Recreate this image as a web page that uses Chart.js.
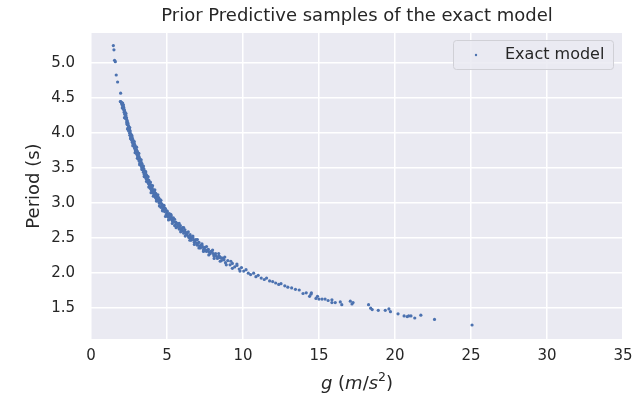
<!DOCTYPE html>
<html><head><meta charset="utf-8">
<script src="https://cdn.jsdelivr.net/npm/chart.js@4.4.1/dist/chart.umd.min.js"></script>
<style>html,body{margin:0;padding:0;background:#fff}#wrap{width:641px;height:399px}</style>
</head><body><div id="wrap"><canvas id="c" width="641" height="399"></canvas></div>
<script>
// g values (m/s^2)
const gravity = [
  1.47,1.51,1.55,1.60,1.66,1.75,1.93,1.95,
  1.95,2.00,2.02,2.05,2.06,2.08,2.10,2.12,2.15,2.16,
  2.18,2.20,2.22,2.25,2.26,2.28,2.30,2.33,2.35,2.36,
  2.38,2.40,2.42,2.45,2.46,2.48,2.50,2.52,2.55,2.56,
  2.58,2.60,2.62,2.65,2.66,2.68,2.70,2.72,2.75,2.76,
  2.78,2.80,2.82,2.85,2.86,2.88,2.90,2.92,2.95,2.96,
  2.98,3.00,3.02,3.05,3.06,3.08,3.10,3.12,3.15,3.16,
  3.18,3.20,3.22,3.25,3.26,3.28,3.30,3.33,3.36,3.36,
  3.40,3.42,3.45,3.46,3.48,3.50,3.53,3.56,3.56,3.60,
  3.63,3.66,3.66,3.70,3.73,3.76,3.76,3.80,3.84,3.86,
  3.88,3.90,3.94,3.96,3.98,4.02,4.06,4.08,4.10,4.14,
  4.18,4.20,4.22,4.26,4.30,4.32,4.35,4.40,4.44,4.45,
  4.50,4.55,4.56,4.60,4.66,4.70,4.72,4.78,4.84,4.86,
  4.90,4.96,5.00,5.02,5.08,5.15,5.18,5.22,5.28,5.35,
  5.38,5.42,5.50,5.58,5.60,5.65,5.72,5.80,5.82,5.88,
  5.95,6.02,6.05,6.10,6.18,6.26,6.30,6.35,6.44,6.52,
  6.55,6.60,6.70,6.80,6.85,6.90,7.00,7.10,7.15,7.20,
  7.30,7.40,7.45,7.50,7.60,7.72,7.80,7.85,7.95,8.08,
  8.15,8.20,8.32,8.45,8.50,8.58,8.70,8.85,9.00,9.15,
  9.30,9.45,9.60,9.75,9.90,10.05,10.20,10.35,10.50,10.70,
  10.85,11.00,11.20,11.40,11.55,11.75,11.95,12.15,12.35,12.50,
  12.75,12.95,13.20,13.45,13.70,13.95,14.16,14.38,14.47,14.50,
  14.80,14.90,15.00,15.20,15.40,15.60,15.85,15.85,16.07,16.40,
  16.50,17.06,17.17,17.24,18.26,18.40,18.50,18.90,19.36,19.60,
  19.70,20.20,20.60,20.80,20.90,21.05,21.30,21.70,22.60,25.07,
  // upper edge of the dense band
  2.10,2.30,2.55,2.70,2.85,3.00,3.15,3.30,
  3.45,3.60,3.75,3.90,4.05,4.20,4.40,4.60,
  4.80,5.00,5.25,5.50,5.80,6.10,6.40,6.70,
  7.00,7.30,7.60,8.00,8.40,8.80,9.20,9.60,
  // lower edge of the dense band
  2.20,2.40,2.60,2.75,2.90,3.05,3.20,3.35,
  3.50,3.65,3.80,3.95,4.10,4.30,4.50,4.70,
  4.90,5.10,5.35,5.60,5.90,6.20,6.50,6.80,
  7.10,7.40,7.75,8.10,8.50,8.90,9.30,9.80,
  // middle of the dense band
  2.13,2.24,2.34,2.44,2.54,2.64,2.74,2.84,
  2.94,3.04,3.14,3.24,3.34,3.44,3.54,3.64,
  3.74,3.84,3.94,4.04,4.16,4.28,4.42,4.58,
  4.75,4.92,5.10,5.30,5.52,5.75,6.00,6.25,
  6.50,6.75,7.05,7.35,7.70,8.05,8.40,8.75,
  // more of the dense band
  2.03,2.18,2.28,2.38,2.48,2.58,2.68,2.78,
  2.88,2.98,3.08,3.18,3.28,3.38,3.48,3.58,
  3.68,3.78,3.88,3.98,4.12,4.24,4.36,4.50,
  4.65,4.82,5.00,5.20,5.42,5.65,5.90,6.15,
  6.40,6.65,6.95,7.25,7.55,7.90,8.25,8.60
];
// period values (s), same order as gravity
const period = [
  5.25,5.19,5.04,5.02,4.83,4.73,4.45,4.57,
  4.45,4.44,4.42,4.40,4.36,4.43,4.38,4.35,4.37,4.33,
  4.30,4.32,4.27,4.28,4.24,4.22,4.25,4.20,4.16,4.13,
  4.18,4.12,4.15,4.08,4.05,4.10,4.04,4.07,4.00,3.97,
  4.03,3.97,3.94,3.98,3.92,3.90,3.93,3.87,3.91,3.86,
  3.84,3.88,3.82,3.85,3.79,3.78,3.82,3.75,3.79,3.74,
  3.72,3.76,3.70,3.74,3.68,3.66,3.71,3.63,3.67,3.62,
  3.60,3.64,3.57,3.62,3.56,3.54,3.58,3.52,3.56,3.50,
  3.48,3.52,3.44,3.46,3.49,3.41,3.46,3.38,3.41,3.43,
  3.35,3.40,3.35,3.32,3.37,3.29,3.31,3.33,3.25,3.27,
  3.30,3.21,3.26,3.22,3.18,3.22,3.15,3.17,3.19,3.12,
  3.16,3.12,3.09,3.14,3.06,3.09,3.11,3.03,3.05,3.08,
  3.00,3.05,3.02,2.94,2.99,2.97,2.91,2.95,2.88,2.93,
  2.92,2.84,2.86,2.88,2.80,2.85,2.80,2.77,2.82,2.75,
  2.77,2.79,2.68,2.73,2.70,2.66,2.70,2.63,2.66,2.68,
  2.61,2.65,2.60,2.57,2.62,2.55,2.56,2.58,2.51,2.55,
  2.50,2.47,2.51,2.44,2.46,2.48,2.40,2.44,2.39,2.36,
  2.40,2.33,2.35,2.37,2.31,2.34,2.30,2.28,2.31,2.25,
  2.26,2.28,2.21,2.24,2.22,2.18,2.21,2.15,2.18,2.12,
  2.14,2.09,2.11,2.06,2.08,2.03,2.05,2.00,1.98,2.00,
  1.95,1.97,1.93,1.91,1.93,1.89,1.88,1.86,1.84,1.85,
  1.82,1.80,1.79,1.77,1.76,1.71,1.72,1.67,1.70,1.72,
  1.64,1.67,1.63,1.63,1.63,1.61,1.62,1.58,1.58,1.59,
  1.55,1.60,1.56,1.58,1.55,1.50,1.48,1.47,1.47,1.49,
  1.45,1.42,1.39,1.38,1.39,1.39,1.36,1.40,1.34,1.26,
  // upper edge
  4.41,4.28,4.08,3.96,3.88,3.80,3.71,3.62,
  3.53,3.45,3.38,3.30,3.25,3.19,3.12,3.04,
  2.97,2.89,2.84,2.77,2.71,2.65,2.59,2.53,
  2.48,2.42,2.38,2.33,2.28,2.23,2.17,2.13,
  // lower edge
  4.22,4.06,3.92,3.82,3.72,3.64,3.55,3.48,
  3.38,3.31,3.23,3.15,3.10,3.03,2.96,2.89,
  2.81,2.76,2.71,2.65,2.59,2.53,2.47,2.41,
  2.36,2.31,2.26,2.21,2.17,2.12,2.07,2.03,
  // middle
  4.40,4.30,4.22,4.13,4.05,3.95,3.89,3.81,
  3.77,3.71,3.65,3.59,3.54,3.49,3.43,3.38,
  3.33,3.29,3.24,3.19,3.14,3.11,3.07,3.00,
  2.94,2.89,2.83,2.79,2.73,2.68,2.63,2.58,
  2.53,2.48,2.43,2.37,2.32,2.28,2.24,2.19,
  // more
  4.43,4.34,4.21,4.15,4.03,4.00,3.94,3.86,
  3.83,3.74,3.70,3.62,3.59,3.49,3.45,3.37,
  3.36,3.28,3.25,3.23,3.16,3.08,3.07,3.02,
  2.95,2.92,2.83,2.82,2.74,2.71,2.63,2.60,
  2.53,2.52,2.43,2.40,2.33,2.31,2.24,2.22
];
const xTickValues = [0,5,10,15,20,25,30,35];
const yTickValues = [1.5,2.0,2.5,3.0,3.5,4.0,4.5,5.0];
const seriesLabel = 'Exact model';
const chartTitle = 'Prior Predictive samples of the exact model';
const yAxisTitle = 'Period (s)';
// x-axis title pieces: [text, style]  ->  g (m/s²)
const xAxisTitleParts = [['g','i'],[' (','n'],['m','i'],['/','n'],['s','i'],['2','sup'],[')','n']];

const points = gravity.map((g, i) => ({x: g, y: period[i]}));
const FONT = "'DejaVu Sans', sans-serif";
const TEXT = '#262626';
const BLUE = '#4C72B0';

const bgPlugin = {
  id: 'bg',
  beforeDraw(chart) {
    const {ctx, chartArea: a} = chart;
    ctx.save();
    ctx.fillStyle = '#EAEAF2';
    ctx.fillRect(a.left, a.top, a.right - a.left, a.bottom - a.top);
    ctx.restore();
  }
};
const xTitlePlugin = {
  id: 'xTitle',
  afterDraw(chart) {
    const {ctx, chartArea: a} = chart;
    const fontFor = st => st === 'i' ? "italic 18px " + FONT : st === 'sup' ? "12.5px " + FONT : "18px " + FONT;
    ctx.save();
    let total = 0;
    xAxisTitleParts.forEach(([t, st]) => { ctx.font = fontFor(st); total += ctx.measureText(t).width; });
    let x = (a.left + a.right) / 2 - total / 2;
    const base = 389;
    ctx.fillStyle = TEXT;
    ctx.textBaseline = 'alphabetic';
    ctx.textAlign = 'left';
    xAxisTitleParts.forEach(([t, st]) => {
      ctx.font = fontFor(st);
      ctx.fillText(t, x, st === 'sup' ? base - 8 : base);
      x += ctx.measureText(t).width;
    });
    ctx.restore();
  }
};
const legendPlugin = {
  id: 'boxLegend',
  afterDatasetsDraw(chart) {
    const {ctx, chartArea: a} = chart;
    const w = 160, h = 29;
    const x = a.right - 10 - w, y = a.top + 7;
    ctx.save();
    ctx.beginPath();
    ctx.roundRect(x + 0.5, y + 0.5, w, h, 3);
    ctx.fillStyle = 'rgba(234,234,242,0.85)';
    ctx.fill();
    ctx.strokeStyle = '#D0D0D6';
    ctx.lineWidth = 1;
    ctx.stroke();
    ctx.fillStyle = BLUE;
    ctx.beginPath();
    ctx.arc(x + 23, y + 15, 1.2, 0, Math.PI * 2);
    ctx.fill();
    ctx.fillStyle = TEXT;
    ctx.font = "16px " + FONT;
    ctx.textBaseline = 'middle';
    ctx.textAlign = 'left';
    ctx.fillText(chart.data.datasets[0].label, x + 52, y + 15);
    ctx.restore();
  }
};

const keepTicks = (vals) => (scale) => {
  scale.ticks = vals.map(v => ({value: v}));
};

new Chart(document.getElementById('c'), {
  type: 'scatter',
  data: {datasets: [{
    label: seriesLabel,
    data: points,
    backgroundColor: BLUE,
    borderWidth: 0,
    pointRadius: 1.6,
    pointHoverRadius: 1.6
  }]},
  options: {
    responsive: false,
    devicePixelRatio: 1,
    animation: false,
    events: [],
    layout: {padding: {left: 0, right: 18, top: 0, bottom: 0}},
    plugins: {
      legend: {display: false},
      tooltip: {enabled: false},
      title: {
        display: true, text: chartTitle, color: TEXT, fullSize: false,
        font: {family: FONT, size: 18, weight: 'normal', lineHeight: 1.2},
        padding: {top: 6, bottom: 5.4}
      }
    },
    scales: {
      x: {
        type: 'linear', min: 0, max: 35,
        afterBuildTicks: keepTicks(xTickValues),
        afterFit: s => { s.height = 60; },
        border: {display: false},
        grid: {color: '#FFFFFF', lineWidth: 1.5, drawTicks: false},
        ticks: {color: TEXT, font: {family: FONT, size: 15}, padding: 8,
                callback: v => String(v), maxRotation: 0},
        title: {display: false}
      },
      y: {
        type: 'linear', min: 1.06, max: 5.43,
        afterBuildTicks: keepTicks(yTickValues),
        afterFit: s => { s.width = 91; },
        border: {display: false},
        grid: {color: '#FFFFFF', lineWidth: 1.5, drawTicks: false},
        ticks: {color: TEXT, font: {family: FONT, size: 15}, padding: 16,
                callback: v => Number(v).toFixed(1)},
        title: {display: true, text: yAxisTitle, color: TEXT,
                font: {family: FONT, size: 18, lineHeight: 1.2}, padding: {top: 24, bottom: 0}}
      }
    }
  },
  plugins: [bgPlugin, legendPlugin, xTitlePlugin]
});
</script>
</body></html>
